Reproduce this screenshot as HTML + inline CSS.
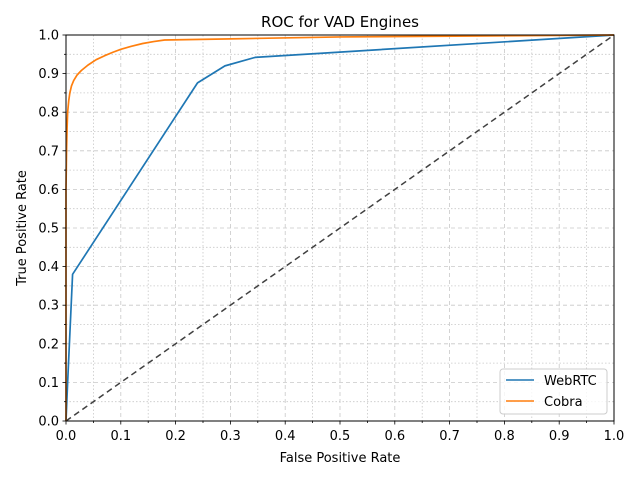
<!DOCTYPE html>
<html><head><meta charset="utf-8"><style>
body{margin:0;background:#fff;font-family:"Liberation Sans","DejaVu Sans",sans-serif}
</style></head><body>
<svg id="chart" width="640" height="480" xmlns="http://www.w3.org/2000/svg" font-family="DejaVu Sans, Liberation Sans, sans-serif">
<rect width="640" height="480" fill="#fff"/>
<g id="grid"></g>
<g id="series"></g>
<rect x="66" y="35" width="548" height="386" fill="none" stroke="#000" stroke-width="1"/>
<g id="ticks"></g>
<text x="340" y="27" text-anchor="middle" font-size="15">ROC for VAD Engines</text>
<text x="340" y="462" text-anchor="middle" font-size="13">False Positive Rate</text>
<text x="26" y="228" text-anchor="middle" font-size="13" transform="rotate(-90 26 228)">True Positive Rate</text>
<g>
<rect x="500" y="369" width="107" height="45" rx="3" fill="#fff" fill-opacity="0.8" stroke="#ccc"/>
<g><line x1="506" y1="380" x2="534" y2="380" stroke="#1f77b4" stroke-width="1.5"/><text x="544" y="385" font-size="13">WebRTC</text></g>
<g><line x1="506" y1="401" x2="534" y2="401" stroke="#ff7f0e" stroke-width="1.5"/><text x="544" y="406" font-size="13">Cobra</text></g>
</g>
</svg>
<script>
const tickLabels=["0.0","0.1","0.2","0.3","0.4","0.5","0.6","0.7","0.8","0.9","1.0"];
const webrtcFpr=[0,0.003,0.012,0.24,0.29,0.345,1];
const webrtcTpr=[0,0.1,0.38,0.876,0.92,0.942,1];
const cobraFpr=[0,0,0.001,0.002,0.003,0.005,0.007,0.01,0.014,0.02,0.028,0.04,0.055,0.07,0.085,0.1,0.12,0.14,0.16,0.18,0.3,0.5,1];
const cobraTpr=[0,0.6,0.7,0.76,0.8,0.83,0.85,0.868,0.882,0.896,0.908,0.922,0.936,0.946,0.955,0.963,0.971,0.978,0.983,0.987,0.99,0.995,1];
const diagX=[0,1], diagY=[0,1];
const X=v=>66+v*548, Y=v=>421-v*386;
const NS="http://www.w3.org/2000/svg";
function mk(tag,attrs,parent){const e=document.createElementNS(NS,tag);for(const k in attrs)e.setAttribute(k,attrs[k]);parent.appendChild(e);return e;}
const grid=document.getElementById('grid'),ticks=document.getElementById('ticks'),ser=document.getElementById('series');
for(let i=1;i<20;i++){const v=i/20,major=i%2===0;
 const da=major?"4,3":"1.5,2";
 const g1=mk('line',{x1:X(v),x2:X(v),y1:35,y2:421,stroke:"#c8c8c8","stroke-width":0.8,"stroke-dasharray":da},grid);
 
 const g2=mk('line',{x1:66,x2:614,y1:Y(v),y2:Y(v),stroke:"#c8c8c8","stroke-width":0.8,"stroke-dasharray":da},grid);
 }
for(let i=0;i<=20;i++){const v=i/20,len=i%2===0?3.5:2;
 mk('line',{x1:X(v),x2:X(v),y1:421,y2:421+len,stroke:"#000","stroke-width":0.8},ticks);
 mk('line',{x1:66-len,x2:66,y1:Y(v),y2:Y(v),stroke:"#000","stroke-width":0.8},ticks);}
tickLabels.forEach((t,i)=>{const v=i/10;
 const a=mk('text',{x:X(v),y:440,"text-anchor":"middle","font-size":13},ticks);a.textContent=t;
 
 const b=mk('text',{x:59,y:Y(v)+4.5,"text-anchor":"end","font-size":13},ticks);b.textContent=t;
 });
function line(xs,ys,color,name,dash){const d=xs.map((x,i)=>(i?"L":"M")+X(x).toFixed(2)+","+Y(ys[i]).toFixed(2)).join("");
 const p=mk('path',{d:d,fill:"none",stroke:color,"stroke-width":dash?1.5:1.7,"stroke-linejoin":"round"},ser);
 if(dash)p.setAttribute('stroke-dasharray',dash);
 }
line(diagX,diagY,"#404040","chance-diagonal","6,4");
line(webrtcFpr,webrtcTpr,"#1f77b4","webrtc-line");
line(cobraFpr,cobraTpr,"#ff7f0e","cobra-line");
</script>
</body></html>
